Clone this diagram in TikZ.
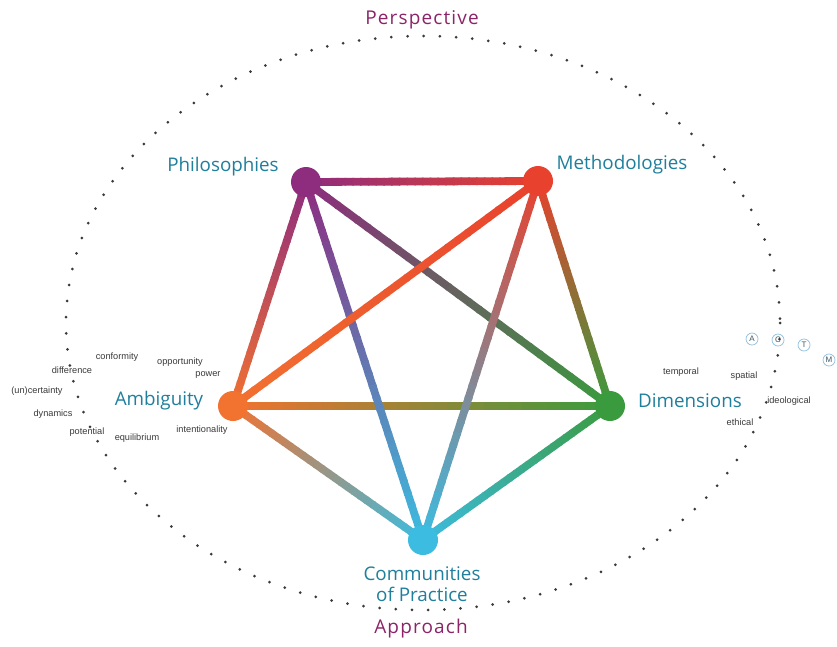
\documentclass[tikz,border=0pt]{standalone}
\usepackage{fontspec}
\setmainfont{Open Sans}
\newfontfamily\wordfont{Liberation Sans}
\usetikzlibrary{calc,positioning}

\definecolor{philc}{HTML}{8E2C7E}
\definecolor{methc}{HTML}{E8412E}
\definecolor{ambic}{HTML}{F27230}
\definecolor{dimc}{HTML}{3A9B3E}
\definecolor{commc}{HTML}{3CBCE0}
\definecolor{labelc}{HTML}{1F7F9C}
\definecolor{framec}{HTML}{8C2468}
\definecolor{wordc}{HTML}{3A3A3A}
\definecolor{ringc}{HTML}{8DBEDB}

\pgfdeclarelayer{edges}
\pgfdeclarelayer{paper}
\pgfsetlayers{paper,edges,main}

\tikzset{
  vertex/.style={circle, inner sep=0pt, minimum size=30pt},
  edge/.style={line width=7.8pt},
  lbl/.style={text=labelc, font=\fontsize{18.8}{21}\selectfont},
  frametxt/.style={text=framec, font=\fontsize{19}{21}\selectfont\addfontfeatures{LetterSpace=6}},
  word/.style={text=wordc, font=\wordfont\fontsize{9.2}{10}\selectfont},
  ring/.style={circle, draw=ringc, line width=0.7pt, inner sep=0pt, minimum size=12pt,
    text=ringc!45!black, font=\wordfont\fontsize{8}{8}\selectfont},
  dots/.style={draw=wordc, line width=3pt, line cap=round, dash pattern=on 0pt off 16.2pt}
}

%% edge with colour running from one end to the other
\newcommand{\gradedge}[4]{%
  \foreach \k in {0,...,29}{%
    \pgfmathsetmacro{\pa}{\k/30}%
    \pgfmathsetmacro{\pb}{(\k+1.2)/30}%
    \pgfmathtruncatemacro{\mx}{100-100*(\k+0.5)/30}%
    \draw[edge, #3!\mx!#4] ($(#1)!\pa!(#2)$) -- ($(#1)!\pb!(#2)$);
  }}

\begin{document}
\begin{tikzpicture}[x=1pt,y=-1pt]
  \begin{pgfonlayer}{paper}
    \fill[white] (0,0) rectangle (837,646);
  \end{pgfonlayer}
  \useasboundingbox (0,0) rectangle (837,646);

  %% dotted frame
  \draw[dots] (423,323) ellipse (357 and 287);
  \node[frametxt] (persp) at (422,20) {Perspective};
  \node[frametxt] (appr) at (421,629) {Approach};

  %% vertices
  \node[vertex, fill=philc] (phil) at (306,182) {};
  \node[vertex, fill=methc] (meth) at (538,181) {};
  \node[vertex, fill=ambic] (ambi) at (233,406) {};
  \node[vertex, fill=dimc] (dims) at (610,406) {};
  \node[vertex, fill=commc] (comm) at (423,540) {};

  %% edges
  \begin{pgfonlayer}{edges}
    \gradedge{phil}{meth}{philc}{methc}
    \gradedge{meth}{dims}{methc}{dimc}
    \gradedge{dims}{comm}{dimc}{commc}
    \gradedge{ambi}{comm}{ambic}{commc}
    \gradedge{ambi}{phil}{ambic}{philc}
    \gradedge{ambi}{dims}{ambic}{dimc}
    \gradedge{phil}{dims}{philc}{dimc}
    \gradedge{meth}{comm}{methc}{commc}
    \gradedge{phil}{comm}{philc}{commc}
    \gradedge{ambi}{meth}{ambic}{methc}
  \end{pgfonlayer}

  %% labels
  \node[lbl] (philtxt) at (223,167) {Philosophies};
  \node[lbl] (methtxt) at (622,165) {Methodologies};
  \node[lbl] (ambitxt) at (159,401) {Ambiguity};
  \node[lbl] (dimstxt) at (690,401) {Dimensions};
  \node[lbl, align=center] (commtxt) at (422,584) {Communities\\of Practice};

  %% words round Ambiguity
  \node[word] (conf) at (117,357) {conformity};
  \node[word] (oppo) at (180,362) {opportunity};
  \node[word] (powr) at (208,375) {power};
  \node[word] (diff) at (72,370) {difference};
  \node[word] (unce) at (37,391) {(un)certainty};
  \node[word] (dyna) at (53,414) {dynamics};
  \node[word] (pote) at (87,432) {potential};
  \node[word] (equi) at (137,438) {equilibrium};
  \node[word] (inte) at (202,430) {intentionality};

  %% words round Dimensions
  \node[word] (temp) at (681,372) {temporal};
  \node[word] (spat) at (744,376) {spatial};
  \node[word] (ideo) at (789,401) {ideological};
  \node[word] (ethi) at (740,422) {ethical};

  \node[ring] (ra) at (752,339) {A};
  \node[ring] (rc) at (778,340) {C};
  \node[ring] (rt) at (804,345) {T};
  \node[ring] (rm) at (829,360) {M};

\end{tikzpicture}
\end{document}
